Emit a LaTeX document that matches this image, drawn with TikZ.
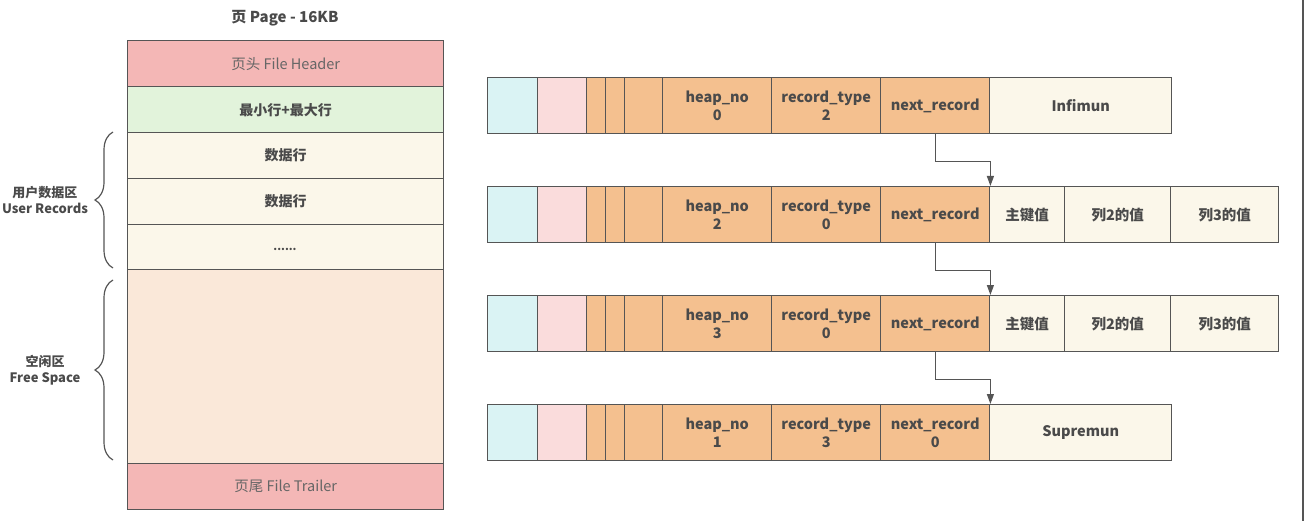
\documentclass[tikz,border=0pt]{standalone}
\usepackage{fontspec}
\setmainfont{Noto Sans CJK SC}
\usetikzlibrary{arrows.meta,decorations.pathreplacing}
\definecolor{edge}{HTML}{555555}
\definecolor{txt}{HTML}{4A4A4A}
\definecolor{lite}{HTML}{666666}
\definecolor{hdr}{HTML}{F4B7B6}
\definecolor{grn}{HTML}{E2F3DB}
\definecolor{crm}{HTML}{FBF7EA}
\definecolor{free}{HTML}{FAE8D9}
\definecolor{cyn}{HTML}{DAF3F4}
\definecolor{pnk}{HTML}{FADCDC}
\definecolor{org}{HTML}{F4C08F}
\tikzset{
  cell/.style={draw=edge, line width=1.4pt, anchor=north west, inner sep=0pt,
    minimum height=56pt, text=txt, font=\bfseries\fontsize{14.5}{17.5}\selectfont, align=center},
  prow/.style={draw=edge, line width=1.4pt, anchor=north west, inner sep=0pt,
    minimum width=316pt, text=txt, font=\bfseries\fontsize{14}{17}\selectfont, align=center},
  link/.style={draw=edge, line width=1.2pt, -{Triangle[length=10pt,width=7pt]}},
  brc/.style={draw=edge, line width=1.2pt, decorate, decoration={brace, amplitude=18pt}},
  side/.style={text=txt, font=\bfseries\fontsize{13}{16}\selectfont, align=center}
}
\newcommand\recrow[5]{%
  \node[cell, fill=cyn, minimum width=50pt] (#1a) at (487,#2) {};
  \node[cell, fill=pnk, minimum width=49pt] (#1b) at (537,#2) {};
  \node[cell, fill=org, minimum width=19pt] (#1c) at (586,#2) {};
  \node[cell, fill=org, minimum width=19pt] (#1d) at (605,#2) {};
  \node[cell, fill=org, minimum width=38pt] (#1e) at (624,#2) {};
  \node[cell, fill=org, minimum width=109pt] (#1heap) at (662,#2) {heap\_no\\#3};
  \node[cell, fill=org, minimum width=109pt] (#1type) at (771,#2) {record\_type\\#4};
  \node[cell, fill=org, minimum width=109pt] (#1next) at (880,#2) {#5};
}
\begin{document}
\begin{tikzpicture}[x=1pt,y=-1pt]
\useasboundingbox (0,0) rectangle (1305,521);
% page column
\node[text=txt, font=\bfseries\fontsize{15}{18}\selectfont] (title) at (285,18) {页 Page - 16KB};
\node[prow, fill=hdr, minimum height=46pt, text=lite, font=\fontsize{14.5}{17}\selectfont] (fh) at (127,40) {页头 File Header};
\node[prow, fill=grn, minimum height=46pt] (mm) at (127,86) {最小行+最大行};
\node[prow, fill=crm, minimum height=46pt] (d1) at (127,132) {数据行};
\node[prow, fill=crm, minimum height=46pt] (d2) at (127,178) {数据行};
\node[prow, fill=crm, minimum height=45pt] (d3) at (127,224) {};
\node[text=txt, font=\bfseries\fontsize{11}{13}\selectfont, inner sep=0pt, anchor=base] (dots) at (285,251) {......};
\node[prow, fill=free, minimum height=194pt] (fs) at (127,269) {};
\node[prow, fill=hdr, minimum height=46pt, text=lite, font=\fontsize{14.5}{17}\selectfont] (ft) at (127,463) {页尾 File Trailer};
% braces
\draw[brc] (113,268) -- (113,132);
\draw[brc] (113,460) -- (113,280);
\node[side] (ur) at (45,200) {用户数据区\\User Records};
\node[side] (fsl) at (45,370) {空闲区\\Free Space};
% records
\recrow{r1}{77}{0}{2}{next\_record}
\node[cell, fill=crm, minimum width=182pt] (r1val) at (989,77) {Infimun};
\recrow{r2}{186}{2}{0}{next\_record}
\node[cell, fill=crm, minimum width=75pt] (r2k) at (989,186) {主键值};
\node[cell, fill=crm, minimum width=106pt] (r2c2) at (1064,186) {列2的值};
\node[cell, fill=crm, minimum width=108pt] (r2c3) at (1170,186) {列3的值};
\recrow{r3}{295}{3}{0}{next\_record}
\node[cell, fill=crm, minimum width=75pt] (r3k) at (989,295) {主键值};
\node[cell, fill=crm, minimum width=106pt] (r3c2) at (1064,295) {列2的值};
\node[cell, fill=crm, minimum width=108pt] (r3c3) at (1170,295) {列3的值};
\recrow{r4}{404}{1}{3}{next\_record\\0}
\node[cell, fill=crm, minimum width=182pt] (r4val) at (989,404) {Supremun};
% links
\draw[link] (r1next.south) -- ++(0,27) -| (r2next.north east);
\draw[link] (r2next.south) -- ++(0,27) -| (r3next.north east);
\draw[link] (r3next.south) -- ++(0,27) -| (r4next.north east);
% right edge line
\coordinate (et) at (1303,0);
\coordinate (eb) at (1303,521);
\draw[edge, line width=1.2pt] (et) -- (eb);
\end{tikzpicture}
\end{document}
